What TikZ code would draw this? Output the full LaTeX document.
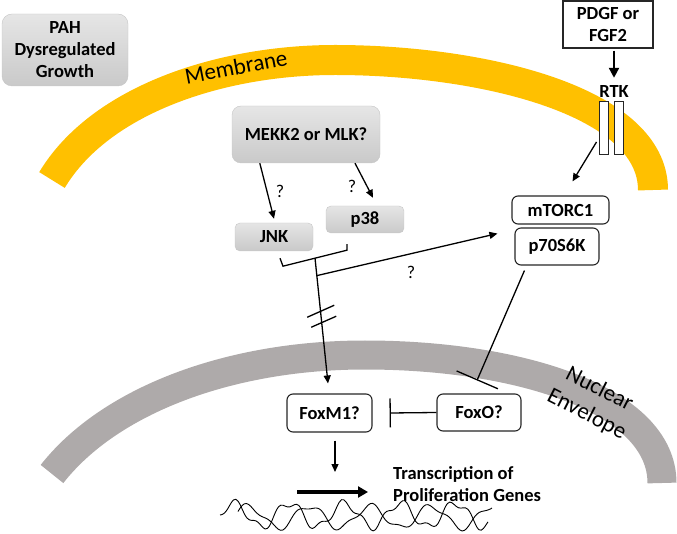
\documentclass[tikz,border=0pt]{standalone}
\usepackage{fontspec}
\setmainfont{Carlito}
\usetikzlibrary{arrows.meta,calc}
\definecolor{membraneyellow}{HTML}{FFC000}
\definecolor{envelopegray}{HTML}{AEAAAA}
\begin{document}
\begin{tikzpicture}[x=1pt,y=-1pt,
	boxtext/.style={font=\fontsize{18.5}{22}\selectfont\bfseries,align=center,inner sep=0pt},
	graybox/.style={boxtext,rounded corners=6pt,draw=gray!45,top color=gray!20,bottom color=gray!42},
	whitebox/.style={boxtext,rounded corners=6pt,draw=black!85,line width=1.1pt,fill=white},
	plainbox/.style={boxtext,draw=black!85,line width=1.2pt,fill=white},
	receptor/.style={draw=black!85,line width=1pt,fill=white,minimum width=9pt,minimum height=53pt,inner sep=0pt},
	bandlabel/.style={font=\fontsize{23}{28}\selectfont,align=center,inner sep=0pt},
	qmark/.style={font=\fontsize{18}{20}\selectfont,inner sep=0pt},
	membrane/.style={membraneyellow,line width=30pt},
	envelope/.style={envelopegray,line width=29pt},
	link/.style={line width=1.3pt},
	arr/.style={link,-{Triangle[length=8pt,width=7pt]}},
	inhibit/.style={link,-{Bar[width=#1]}},
	dna/.style={line width=0.9pt}]
	\useasboundingbox (0,0) rectangle (677,534);
	% cell membrane and nuclear envelope
	\draw[membrane] (52,180) .. controls (100,100) and (220,60) .. (335,60)
		.. controls (480,60) and (653,100) .. (653,190);
	\draw[envelope] (52,474) .. controls (110,400) and (230,355) .. (365,355)
		.. controls (520,355) and (662,400) .. (662,483);
	\node[bandlabel,rotate=11] (memlabel) at (236,67) {Membrane};
	\node[bandlabel,rotate=-27] (envlabel) at (593,402) {Nuclear\\Envelope};

	% boxes
	\node[graybox,minimum width=126pt,minimum height=72pt,rounded corners=10pt] (pah) at (65,50)
		{PAH\\Dysregulated\\Growth};
	\node[plainbox,minimum width=90pt,minimum height=47pt] (pdgf) at (608,24.5) {PDGF or\\FGF2};
	\node[boxtext] (rtk) at (614,92) {RTK};
	\node[receptor] (rtka) at (603.5,128.5) {};
	\node[receptor] (rtkb) at (618.5,128.5) {};
	\node[graybox,minimum width=148pt,minimum height=57pt,rounded corners=9pt] (mekk) at (306,134.5)
		{MEKK2 or MLK?};
	\node[graybox,minimum width=78pt,minimum height=28pt,rounded corners=5pt] (jnk) at (274,237) {JNK};
	\node[graybox,minimum width=78pt,minimum height=27pt,rounded corners=5pt] (p38) at (365,219.5) {p38};
	\node[whitebox,minimum width=97pt,minimum height=28pt] (mtorc) at (560.5,210) {mTORC1};
	\node[whitebox,minimum width=84pt,minimum height=37pt] (p70) at (557,246.5) {p70S6K};
	\node[whitebox,minimum width=85pt,minimum height=38pt] (foxm) at (329.5,413) {FoxM1?};
	\node[whitebox,minimum width=84pt,minimum height=37pt] (foxo) at (479,412.5) {FoxO?};
	\node[boxtext,anchor=west,align=left] (genes) at (393,484) {Transcription of\\Proliferation Genes};

	% question marks
	\node[qmark] (q1) at (280,191) {?};
	\node[qmark] (q2) at (352,186) {?};
	\node[qmark] (q3) at (411,272) {?};

	% signalling
	\draw[link,-{Triangle[length=10pt,width=10pt]},line width=2.2pt,shorten <=2pt,shorten >=8pt]
		(pdgf.south -| rtk) -- (rtk.north);
	\draw[arr] ($(rtka.west)+(-2,13.5)$) -- ($(mtorc.north)+(12,-14)$);
	\draw[arr] ($(mekk.south west)+(28,0)$) -- ($(jnk.north)+(0,-4)$);
	\draw[arr] ($(mekk.south)+(49,0)$) -- ($(p38.north)+(8,-8)$);
	\draw[link] ($(jnk.south)+(6,7)$) -- ($(jnk.south)+(9,15)$)
		-- ($(p38.south)+(-18,17)$) -- ($(p38.south)+(-18,11)$);
	\coordinate (junction) at (315,258);
	\draw[arr] (junction) -- ($(foxm.north)+(-1.5,-10)$);
	\draw[arr] ($(junction)!0.13!(foxm.north)$) -- ($(mtorc.south west)+(-14,9)$);
	\coordinate (cut) at ($(junction)!0.43!(foxm.north)$);
	\draw[link] ($(cut)+(-14,1)$) -- ($(cut)+(13,-11)$);
	\draw[link] ($(cut)+(-10,11)$) -- ($(cut)+(15,0)$);
	\draw[inhibit=45pt] ($(p70.south west)+(10,5)$) -- ($(foxo.north)+(-2,-13)$);
	\draw[inhibit=29pt] (foxo.west) -- ($(foxm.east)+(17,0)$);
	\coordinate (dnatop) at (335,472);
	\draw[arr] ($(foxm.south)+(5.5,8)$) -- (dnatop);

	% transcription
	\coordinate (tss) at (297,492);
	\coordinate (tssend) at (368,492);
	\draw[line width=3.5pt,-{Triangle[length=10pt,width=11pt]}] (tss) -- (tssend);
	\draw[dna] plot[domain=220:488,samples=120,smooth]
		(\x,{515-12*sin(6.5*(\x-220))+4*sin(17*(\x-220))});
	\draw[dna] plot[domain=238:492,samples=120,smooth]
		(\x,{517+11*sin(5.9*(\x-238)-150)-3*sin(14*(\x-238))});
\end{tikzpicture}
\end{document}
